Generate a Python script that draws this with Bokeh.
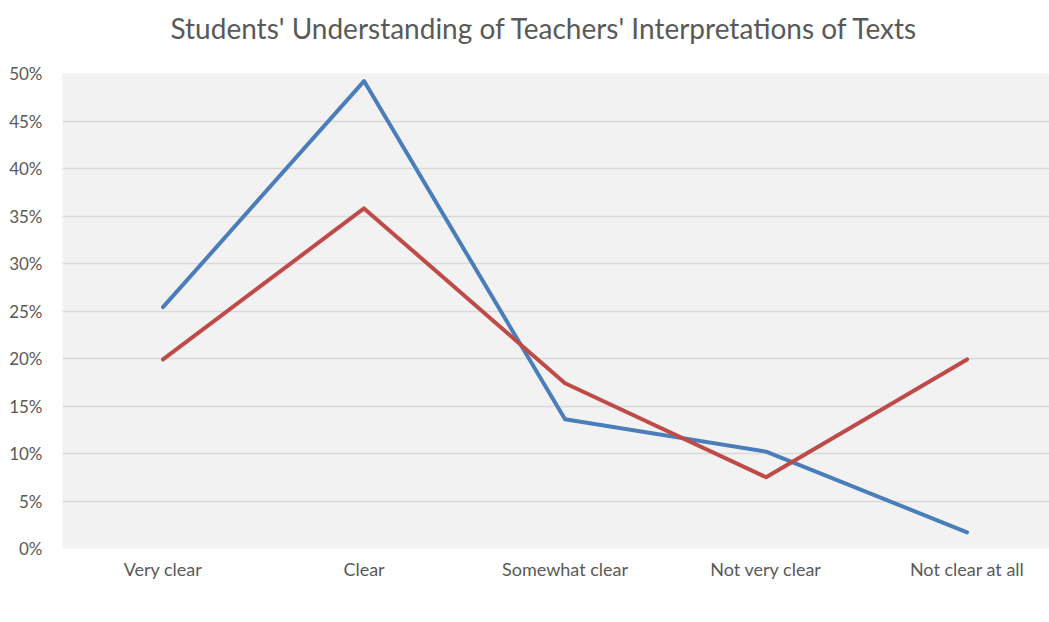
from bokeh.plotting import figure
from bokeh.models import Range1d, FixedTicker, NumeralTickFormatter, Legend, LegendItem, Title
from bokeh.embed import file_html
from bokeh.resources import INLINE

categories = ["Very clear", "Clear", "Somewhat clear", "Not very clear", "Not clear at all"]
hps = [0.254, 0.492, 0.136, 0.102, 0.017]
lps = [0.199, 0.358, 0.174, 0.075, 0.199]
y_ticks = [0.0, 0.05, 0.10, 0.15, 0.20, 0.25, 0.30, 0.35, 0.40, 0.45, 0.50]

x = list(range(len(categories)))
FONT = "Lato"
TXT = "#595959"

p = figure(frame_width=987, frame_height=475, output_backend="svg", toolbar_location=None,
           x_range=Range1d(-0.5, 4.41), y_range=Range1d(0, 0.5),
           min_border_left=62, min_border_right=0, min_border_top=73, min_border_bottom=10,
           background_fill_color="#f2f2f2", border_fill_color="white", outline_line_color=None)

# main title (outer)
p.title.text = "Students' Understanding of Teachers' Interpretations of Texts"
p.title.text_font = FONT
p.title.text_font_style = "normal"
p.title.text_font_size = "28px"
p.title.text_color = TXT
p.title.align = "left"
p.title.offset = 108
p.title.standoff = 0

# spacer between frame and title (inner)
p.add_layout(Title(text=" ", text_font_size="1px", standoff=26), "above")

r1 = p.line(x, hps, line_color="#4a7ebb", line_width=4, line_join="round", line_cap="round")
r2 = p.line(x, lps, line_color="#be4b48", line_width=4, line_join="round", line_cap="round")

p.xaxis.ticker = FixedTicker(ticks=x)
p.xaxis.major_label_overrides = {i: c for i, c in enumerate(categories)}
p.yaxis.ticker = FixedTicker(ticks=y_ticks)
p.yaxis.formatter = NumeralTickFormatter(format="0%")
for ax in (p.xaxis[0], p.yaxis[0]):
    ax.axis_line_color = None
    ax.major_tick_line_color = None
    ax.minor_tick_line_color = None
    ax.major_tick_out = 0
    ax.major_tick_in = 0
    ax.minor_tick_out = 0
    ax.axis_label_standoff = 0
    ax.major_label_text_font = FONT
    ax.major_label_text_color = TXT
p.xaxis.major_label_text_font_size = "18px"
p.yaxis.major_label_text_font_size = "17px"
p.xaxis.major_label_standoff = 9
p.yaxis.major_label_standoff = 20

p.xgrid.grid_line_color = None
p.ygrid.grid_line_color = "#d9d9d9"
p.ygrid.grid_line_width = 1.5

legend = Legend(items=[LegendItem(label="HPS", renderers=[r1]), LegendItem(label="LPS", renderers=[r2])],
                orientation="horizontal", location="center", border_line_color=None,
                background_fill_alpha=0, label_text_font=FONT, label_text_font_size="16px",
                label_text_color=TXT, glyph_width=42, spacing=20, padding=0, margin=0,
                label_standoff=6, label_height=14, glyph_height=14)
p.add_layout(legend, "below")

open("out.html", "w").write(file_html(p, INLINE))
